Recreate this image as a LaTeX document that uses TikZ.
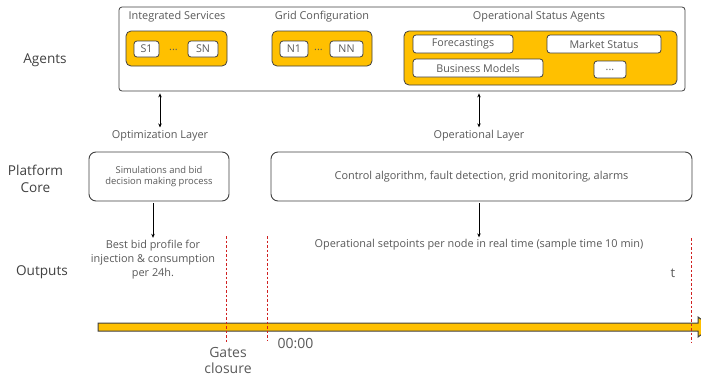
\documentclass[tikz,border=0pt]{standalone}
\usepackage{fontspec}
\setmainfont{Open Sans}
\usetikzlibrary{arrows.meta}
\definecolor{yel}{HTML}{FFC000}
\definecolor{dk}{HTML}{404040}
\definecolor{tx}{HTML}{595959}
\definecolor{rd}{HTML}{D02020}
\begin{document}
\begin{tikzpicture}[x=1pt,y=-1pt,
  every node/.style={text=tx, inner sep=0pt},
  outerbox/.style={draw=dk, line width=0.8pt, rounded corners=3pt, fill=white},
  ygroup/.style={draw=dk, line width=0.8pt, rounded corners=5pt, fill=yel},
  item/.style={draw=dk, line width=0.8pt, rounded corners=3pt, fill=white, font=\fontsize{10.7}{12}\selectfont},
  small/.style={font=\fontsize{10.9}{14}\selectfont},
  big/.style={font=\fontsize{13.6}{17.5}\selectfont, text=dk, align=center},
  corebox/.style={draw=dk, line width=0.9pt, rounded corners=7pt, fill=white},
  conn/.style={-{Stealth[length=4pt,width=3.5pt]}, line width=0.8pt, draw=black},
  dconn/.style={{Stealth[length=4pt,width=3.5pt]}-{Stealth[length=4pt,width=3.5pt]}, line width=0.8pt, draw=black},
  redline/.style={draw=rd, line width=0.6pt, dash pattern=on 2.5pt off 2pt}]
\useasboundingbox (0,0) rectangle (701,378);
% Agents row
\node[outerbox, minimum width=566pt, minimum height=84pt] (outer) at (402,49) {};
\node[small] (lis) at (177,17) {Integrated Services};
\node[small] (lgc) at (322,17) {Grid Configuration};
\node[small] (losa) at (539,17) {Operational Status Agents};
\node[ygroup, minimum width=101pt, minimum height=35pt] (g1) at (176.5,48.5) {};
\node[item, minimum width=25pt, minimum height=16pt] (s1) at (146.5,49) {S1};
\node[small] (d1) at (173.5,50) {...};
\node[item, minimum width=30pt, minimum height=16pt] (sn) at (203,49) {SN};
\node[ygroup, minimum width=100pt, minimum height=35pt] (g2) at (322,48.5) {};
\node[item, minimum width=28pt, minimum height=16pt] (n1) at (294,49) {N1};
\node[small] (d2) at (318.5,50) {...};
\node[item, minimum width=33pt, minimum height=16pt] (nn) at (346.5,49) {NN};
\node[ygroup, minimum width=273pt, minimum height=54pt] (g3) at (540.5,58) {};
\node[item, minimum width=100pt, minimum height=18pt] (fc) at (463,44) {Forecastings};
\node[item, minimum width=114pt, minimum height=18pt] (ms) at (604,44) {Market Status};
\node[item, minimum width=130pt, minimum height=18pt] (bm) at (478,68) {Business Models};
\node[item, minimum width=32pt, minimum height=17pt] (d3) at (610,69.5) {...};
% Left labels
\node[big] (agents) at (45,60) {Agents};
\node[big] (core) at (35.5,179) {Platform\\Core};
\node[big] (outputs) at (42,272) {Outputs};
% Layer labels
\node[small] (opt) at (160,136) {Optimization Layer};
\node[small] (opl) at (479,136) {Operational Layer};
\draw[dconn] (opt.north |- outer.south) ++(0,2) -- ([yshift=3pt]opt.north);
\draw[dconn] (opl.north |- outer.south) ++(0,2) -- ([yshift=3pt]opl.north);
% Core boxes
\node[corebox, minimum width=140pt, minimum height=49pt, align=center, font=\fontsize{9.4}{11.5}\selectfont] (sim) at (159,176.5) {Simulations and bid\\decision making process};
\node[corebox, minimum width=421pt, minimum height=49pt, small] (ctl) at (481.5,176.5) {Control algorithm, fault detection, grid monitoring, alarms};
% Outputs
\node[small, align=center] (out1) at (153,259.5) {Best bid profile for\\injection \& consumption\\per 24h.};
\node[small] (out2) at (479,245) {Operational setpoints per node in real time (sample time 10 min)};
\draw[conn] (out1.north |- sim.south) ++(0,2) -- ([yshift=2pt]out1.north);
\draw[conn] (out2.north |- ctl.south) ++(0,2) -- ([yshift=2pt]out2.north);
\node[font=\fontsize{13}{15}\selectfont] (t) at (673,273) {t};
% Timeline
\draw[draw=dk, fill=yel, line width=1pt] (98,323) -- (698,323) -- (698,317) -- (712,327) -- (698,337) -- (698,331) -- (98,331) -- cycle;
\coordinate (r1a) at (226,236); \coordinate (r1b) at (226,342);
\coordinate (r2a) at (267,236); \coordinate (r2b) at (267,340);
\coordinate (r3a) at (691,238); \coordinate (r3b) at (691,343);
\draw[redline] (r1a) -- (r1b);
\draw[redline] (r2a) -- (r2b);
\draw[redline] (r3a) -- (r3b);
\node[big, text=tx, font=\fontsize{14}{16}\selectfont] (gates) at (228,360) {Gates\\closure};
\node[big, text=tx, font=\fontsize{14}{16}\selectfont] (zero) at (295.5,344) {00:00};
\end{tikzpicture}
\end{document}
